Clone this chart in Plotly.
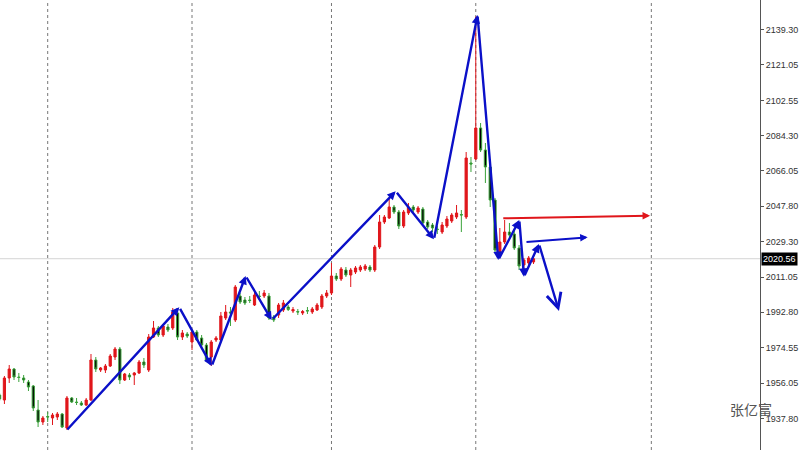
import plotly.graph_objects as go

# ---------------- data ----------------
bar_index = list(range(112))

opens = [1949.97, 1947.38, 1958.78, 1963.44, 1959.29, 1958.78, 1956.70, 1954.63, 1942.20, 1935.98,
         1938.83, 1938.06, 1938.57, 1940.13, 1932.88, 1948.42, 1946.34, 1945.83, 1944.79, 1947.38,
         1968.10, 1962.92, 1962.92, 1964.99, 1969.65, 1973.80, 1957.74, 1960.33, 1960.33, 1961.37,
         1967.06, 1962.92, 1980.01, 1984.68, 1981.05, 1985.19, 1984.68, 1992.45, 1980.01, 1981.57,
         1977.42, 1982.60, 1979.50, 1975.87, 1969.65, 1978.46, 1978.46, 1989.86, 1992.96, 1988.82,
         2001.25, 1999.18, 1999.18, 1996.59, 2001.25, 2001.25, 2001.25, 1990.37, 1991.41, 1994.00,
         1995.55, 1993.48, 1993.22, 1992.45, 1993.74, 1992.96, 1994.00, 1995.55, 2001.25, 2002.81,
         2011.61, 2010.06, 2014.72, 2012.13, 2013.68, 2014.72, 2015.24, 2016.27, 2014.72, 2026.63,
         2039.58, 2041.66, 2047.35, 2044.76, 2037.51, 2044.25, 2047.35, 2044.76, 2046.32, 2039.58,
         2038.03, 2035.96, 2034.40, 2037.51, 2040.10, 2042.17, 2043.47, 2042.17, 2070.15, 2072.22,
         2088.28, 2076.88, 2068.07, 2050.98, 2024.04, 2029.22, 2034.40, 2033.37, 2026.12, 2017.31,
         2018.35, 2018.86]
highs = [1951.01, 1959.81, 1965.51, 1963.96, 1961.37, 1960.33, 1957.74, 1955.15, 1947.38, 1939.09,
         1941.16, 1940.65, 1941.16, 1940.65, 1949.45, 1948.93, 1948.42, 1946.86, 1948.42, 1971.21,
         1969.65, 1964.47, 1966.03, 1971.21, 1974.83, 1974.83, 1961.37, 1961.37, 1961.88, 1968.10,
         1969.14, 1981.57, 1988.30, 1985.71, 1986.75, 1986.75, 1995.04, 1994.00, 1983.64, 1982.60,
         1983.64, 1983.64, 1981.05, 1976.91, 1978.46, 1980.53, 1992.96, 1996.59, 1995.55, 2006.95,
         2002.81, 2000.73, 2001.25, 2003.32, 2003.84, 2004.36, 2002.81, 1991.41, 1997.63, 1999.18,
         1996.59, 1995.55, 1994.52, 1994.00, 1995.55, 1995.55, 1997.63, 2002.29, 2004.36, 2018.35,
         2013.17, 2016.27, 2016.27, 2015.76, 2016.79, 2017.31, 2017.83, 2017.31, 2027.67, 2043.21,
         2043.21, 2052.02, 2048.39, 2045.80, 2045.80, 2049.43, 2048.39, 2047.87, 2047.35, 2040.62,
         2039.07, 2037.51, 2039.58, 2042.69, 2044.25, 2048.39, 2045.80, 2075.84, 2073.25, 2146.03,
         2090.87, 2080.51, 2069.11, 2052.02, 2036.48, 2040.62, 2039.07, 2035.44, 2027.67, 2020.94,
         2021.97, 2022.49]
lows = [1946.86, 1945.31, 1956.19, 1957.74, 1956.70, 1956.19, 1952.04, 1941.68, 1933.39, 1934.43,
        1935.98, 1934.43, 1937.02, 1932.88, 1931.84, 1945.83, 1944.79, 1944.27, 1944.27, 1946.86,
        1961.88, 1961.88, 1961.37, 1964.47, 1968.10, 1955.67, 1957.22, 1957.74, 1955.15, 1960.85,
        1963.96, 1961.88, 1979.50, 1980.01, 1980.01, 1982.60, 1983.64, 1978.46, 1978.46, 1979.50,
        1973.28, 1977.94, 1974.83, 1967.06, 1964.99, 1977.42, 1977.42, 1988.82, 1985.71, 1987.78,
        1997.11, 1996.59, 1997.63, 1996.07, 1999.18, 2000.22, 1988.82, 1987.78, 1989.86, 1992.96,
        1993.48, 1992.45, 1991.41, 1991.41, 1991.93, 1991.93, 1993.48, 1994.52, 2000.22, 2001.77,
        2009.02, 2009.02, 2011.09, 2005.91, 2012.65, 2013.68, 2014.20, 2013.68, 2013.68, 2025.60,
        2038.55, 2041.14, 2043.73, 2035.96, 2036.48, 2043.21, 2044.76, 2043.73, 2038.55, 2035.96,
        2034.40, 2033.37, 2033.37, 2036.48, 2039.07, 2041.14, 2034.40, 2041.14, 2065.48, 2071.70,
        2075.84, 2059.79, 2047.35, 2023.53, 2021.97, 2028.19, 2031.30, 2025.08, 2014.72, 2014.72,
        2017.31, 2017.83]
closes = [1947.90, 1958.78, 1963.44, 1959.29, 1959.03, 1957.74, 1954.11, 1943.24, 1935.98, 1938.06,
          1938.57, 1939.61, 1940.13, 1933.39, 1948.42, 1946.34, 1946.08, 1944.79, 1947.38, 1968.10,
          1963.44, 1963.96, 1964.99, 1970.17, 1973.80, 1957.74, 1960.85, 1959.29, 1961.37, 1967.06,
          1965.51, 1980.01, 1984.68, 1981.05, 1985.71, 1983.64, 1992.96, 1980.01, 1982.09, 1980.53,
          1982.60, 1978.46, 1975.87, 1968.10, 1977.42, 1979.50, 1990.89, 1992.96, 1992.45, 2005.91,
          1998.14, 1997.63, 1998.92, 2001.77, 2000.99, 2002.81, 1989.86, 1988.82, 1996.59, 1997.63,
          1994.26, 1994.26, 1992.96, 1993.22, 1993.48, 1994.52, 1996.59, 2001.25, 2002.81, 2011.61,
          2010.06, 2015.24, 2012.13, 2014.72, 2015.76, 2016.27, 2016.79, 2014.72, 2026.63, 2039.58,
          2042.17, 2047.35, 2044.76, 2037.51, 2044.76, 2047.35, 2045.80, 2046.84, 2039.07, 2036.99,
          2036.48, 2035.70, 2038.03, 2041.14, 2043.21, 2044.25, 2043.21, 2072.74, 2069.63, 2088.28,
          2076.88, 2068.07, 2050.98, 2025.08, 2029.22, 2034.40, 2032.85, 2026.12, 2016.79, 2019.90,
          2020.94, 2020.56]

period_separators = [10, 40, 69, 99, 135.5]

zigzag_x = [13.80, 37.36, 44.10, 51.16, 56.57, 82.35, 90.31, 99.36, 103.68, 108.05, 109.02, 112.14, 116.30]
zigzag_y = [1931.32, 1995.40, 1964.99, 2011.61, 1988.82, 2055.49, 2030.62, 2146.81, 2019.90, 2040.62,
            2011.25, 2028.19, 1993.48]
blue_arrow_x = [109.23, 122.26]
blue_arrow_y = [2029.22, 2031.66]
red_arrow_x = [104.40, 135.23]
red_arrow_y = [2041.50, 2042.85]

last_price = 2020.56
tick_values = [2139.30, 2121.05, 2102.55, 2084.30, 2066.05, 2047.80, 2029.30, 2011.05, 1992.80, 1974.55,
               1956.05, 1937.80]
tick_labels = ["2139.30", "2121.05", "2102.55", "2084.30", "2066.05", "2047.80", "2029.30", "2011.05",
               "1992.80", "1974.55", "1956.05", "1937.80"]
watermark = "张亿富"

# ---------------- figure ----------------
BLUE = "#0b10c8"
RED = "#e0161b"

fig = go.Figure()
fig.add_trace(go.Candlestick(
    x=bar_index, open=opens, high=highs, low=lows, close=closes,
    increasing=dict(line=dict(color=RED, width=1), fillcolor=RED),
    decreasing=dict(line=dict(color="#3aa33a", width=1), fillcolor="#000000"),
    whiskerwidth=0, hoverinfo="skip", showlegend=False,
))

shapes = []
for s in period_separators:
    shapes.append(dict(type="line", xref="x", yref="paper", x0=s, x1=s, y0=0, y1=1,
                       line=dict(color="#777777", width=1, dash="dot"), layer="below"))
shapes.append(dict(type="line", xref="paper", yref="y", x0=0, x1=1, y0=last_price, y1=last_price,
                   line=dict(color="#d4d4d4", width=1), layer="below"))

annotations = []
n = len(zigzag_x)
for i in range(n - 1):
    last = (i == n - 2)
    annotations.append(dict(
        x=zigzag_x[i + 1], y=zigzag_y[i + 1], ax=zigzag_x[i], ay=zigzag_y[i],
        xref="x", yref="y", axref="x", ayref="y", text="", showarrow=True,
        arrowhead=5 if last else 2, arrowsize=1.2 if last else 0.7, arrowwidth=2.4,
        arrowcolor=BLUE, standoff=0, startstandoff=0))
annotations.append(dict(
    x=blue_arrow_x[1], y=blue_arrow_y[1], ax=blue_arrow_x[0], ay=blue_arrow_y[0],
    xref="x", yref="y", axref="x", ayref="y", text="", showarrow=True,
    arrowhead=2, arrowsize=0.75, arrowwidth=2, arrowcolor=BLUE))
annotations.append(dict(
    x=red_arrow_x[1], y=red_arrow_y[1], ax=red_arrow_x[0], ay=red_arrow_y[0],
    xref="x", yref="y", axref="x", ayref="y", text="", showarrow=True,
    arrowhead=2, arrowsize=0.75, arrowwidth=2, arrowcolor=RED))
annotations.append(dict(
    x=1, xref="paper", xanchor="left", xshift=1, y=last_price, yref="y", yanchor="middle",
    text=f"{last_price:.2f}", showarrow=False, bgcolor="#000000", borderpad=1,
    font=dict(family="Liberation Sans, Arial", size=9, color="#ffffff")))
annotations.append(dict(
    x=751 / 760, xref="paper", y=1 - 409 / 450, yref="paper", text=watermark, showarrow=False,
    xanchor="center", yanchor="middle",
    font=dict(family="Noto Sans CJK SC", size=14, color="#555555")))

fig.update_layout(
    width=800, height=450,
    margin=dict(l=0, r=40, t=0, b=0),
    paper_bgcolor="white", plot_bgcolor="white",
    boxgap=0.35,
    shapes=shapes, annotations=annotations,
    xaxis=dict(range=[0.083, 158.09], showgrid=False, zeroline=False, showticklabels=False,
               showline=False, ticks="", rangeslider=dict(visible=False), fixedrange=True),
    yaxis=dict(range=[1921.48, 2154.58], side="right", showgrid=False, zeroline=False,
               showline=True, linecolor="#555555", linewidth=1, mirror=False,
               tickmode="array", tickvals=tick_values, ticktext=tick_labels,
               ticks="outside", ticklen=3, tickcolor="#555555", fixedrange=True,
               tickfont=dict(family="Liberation Sans, Arial", size=9, color="#333333")),
)

fig.write_html("out.html",
               config={"displayModeBar": False},
               post_script="document.body.style.margin='0';document.body.style.overflow='hidden';")
